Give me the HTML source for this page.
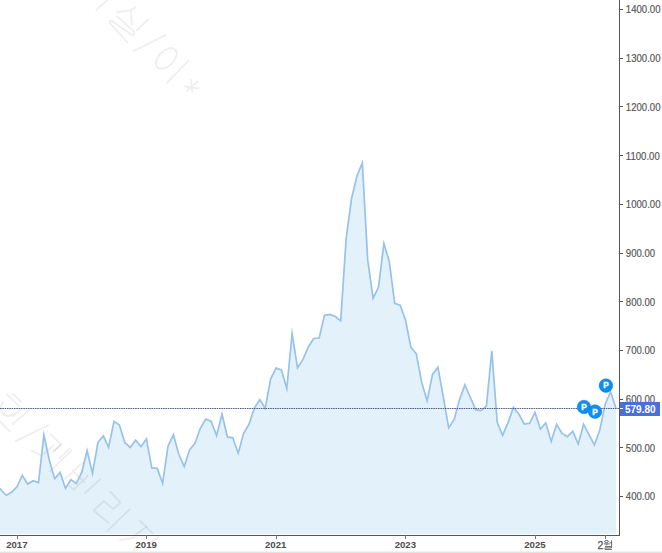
<!DOCTYPE html>
<html><head><meta charset="utf-8"><style>
html,body{margin:0;padding:0;background:#fff;width:662px;height:553px;overflow:hidden}
svg{display:block}
text{font-family:"Liberation Sans",sans-serif}
</style></head><body>
<svg width="662" height="553" viewBox="0 0 662 553">
<rect x="0" y="0" width="662" height="553" fill="#fff"/>
<path d="M-4.7,534 L-4.7,484.0 L0.7,489.5 L6.1,495.3 L11.5,492.3 L16.9,486.8 L22.3,475.4 L27.7,484.0 L33.1,480.7 L38.5,482.5 L43.9,435.0 L49.3,460.0 L54.7,478.7 L60.1,472.4 L65.5,488.3 L70.9,479.6 L76.3,483.5 L81.7,472.4 L87.1,450.7 L92.5,473.3 L97.9,442.5 L103.3,435.8 L108.6,447.4 L114.0,421.4 L119.4,425.0 L124.8,442.5 L130.2,447.4 L135.6,440.2 L141.0,446.7 L146.4,438.9 L151.8,467.9 L157.2,468.4 L162.6,483.3 L168.0,446.2 L173.4,434.8 L178.8,454.3 L184.2,466.6 L189.6,449.8 L195.0,443.4 L200.4,428.0 L205.8,419.0 L211.2,421.5 L216.6,435.7 L222.0,413.9 L227.4,436.9 L232.8,437.8 L238.2,453.2 L243.6,433.3 L249.0,424.3 L254.4,408.0 L259.8,399.5 L265.2,408.5 L270.6,379.0 L276.0,368.1 L281.4,370.0 L286.8,388.6 L292.1,333.5 L297.5,367.8 L302.9,359.7 L308.3,347.0 L313.7,338.5 L319.1,338.0 L324.5,315.3 L329.9,314.4 L335.3,316.5 L340.7,320.8 L346.1,239.0 L351.5,198.8 L356.9,176.0 L362.3,163.0 L367.7,259.9 L373.1,298.4 L378.5,287.0 L383.9,243.5 L389.3,261.7 L394.7,303.3 L400.1,305.2 L405.5,320.0 L410.9,347.3 L416.3,353.8 L421.7,382.4 L427.1,400.8 L432.5,374.4 L437.9,367.2 L443.3,397.0 L448.7,427.8 L454.1,419.6 L459.5,399.7 L464.9,384.9 L470.2,397.0 L475.6,409.7 L481.0,410.6 L486.4,406.1 L491.8,350.9 L497.2,422.4 L502.6,435.3 L508.0,422.6 L513.4,407.4 L518.8,413.9 L524.2,424.0 L529.6,423.3 L535.0,412.4 L540.4,429.0 L545.8,423.0 L551.2,441.4 L556.6,424.3 L562.0,433.4 L567.4,436.6 L572.8,431.3 L578.2,444.0 L583.6,424.3 L589.0,434.6 L594.4,445.0 L599.8,430.0 L605.2,404.0 L610.6,391.8 L616.0,408.5 L616.0,534 Z" fill="#e2f1fa"/>
<g fill="none" stroke="#000" stroke-opacity="0.065" stroke-width="1.8" stroke-linecap="round" stroke-linejoin="round">
<path d="M96.3,10 L107.4,0"/>
<path d="M117.2,12.2 Q124,10.6 129.4,10.6 Q133,9.5 135.5,7.3 M131,11.4 L131.9,24.4"/>
<path d="M136.7,30.5 L148.1,19.5"/>
<path d="M117.2,16.3 L133.9,31.7 M132.5,35.5 L112.3,21.2 Q110,20 109.8,22 Q109.8,23.5 111.1,24.4 M111.1,24.4 L127.4,42.3 M133.9,31.7 Q135.5,34 132.5,35.5"/>
<path d="M133.7,51 L165.5,35.1"/>
<ellipse cx="166.3" cy="58.4" rx="12.5" ry="7.5" transform="rotate(-44 166.3 58.4)"/>
<path d="M167,82.9 L188.7,60.4"/>
<path d="M184.5,86.3 L198.5,88.5 M191,80 L192.2,92 M197.5,81.5 L187,91"/>
<path d="M15.8,441.1 L48.1,425.3"/>
<path d="M0,421.5 L10.1,431.6"/>
<path d="M6.6,394.1 L19,405.8 M12.7,393.8 L21.5,402"/>
<path d="M3,402 Q-1,408 3,414 Q8,418 13,414"/>
<path d="M12.7,424 L29.1,410.1 M12.7,416.6 L20.9,409"/>
<path d="M31.6,450.6 L41.8,455.7 L53.2,445.6 M50.6,434.2 L60.8,444.3 L53.2,451.9 M59.5,458.2 L70,448.1"/>
<path d="M49.8,471.5 L71.5,450.3 M54.1,450.8 L61.7,444.3"/>
<path d="M65,479 L82.3,462.8 M69.3,485.6 L73.6,489.9 L87.7,475.8 M72.5,470.4 L84.5,482.3"/>
<path d="M85,493.2 L100.2,479.4"/>
<path d="M110.3,491.7 L120.5,502.6 L113.2,509.1 L103.8,501.1 L93.7,510.5 L108.2,522.8"/>
<path d="M107.4,530.8 L129.9,509.1"/>
<path d="M140,520.6 L153,533.7"/>
<path d="M134.9,535.2 L146.5,526.7 M120.1,539.9 Q128,539.5 134.9,537.3 M133.8,552 L135.9,545.7 M149.7,543.1 L158.7,537.3"/>
</g>
<polyline points="-4.7,484.0 0.7,489.5 6.1,495.3 11.5,492.3 16.9,486.8 22.3,475.4 27.7,484.0 33.1,480.7 38.5,482.5 43.9,435.0 49.3,460.0 54.7,478.7 60.1,472.4 65.5,488.3 70.9,479.6 76.3,483.5 81.7,472.4 87.1,450.7 92.5,473.3 97.9,442.5 103.3,435.8 108.6,447.4 114.0,421.4 119.4,425.0 124.8,442.5 130.2,447.4 135.6,440.2 141.0,446.7 146.4,438.9 151.8,467.9 157.2,468.4 162.6,483.3 168.0,446.2 173.4,434.8 178.8,454.3 184.2,466.6 189.6,449.8 195.0,443.4 200.4,428.0 205.8,419.0 211.2,421.5 216.6,435.7 222.0,413.9 227.4,436.9 232.8,437.8 238.2,453.2 243.6,433.3 249.0,424.3 254.4,408.0 259.8,399.5 265.2,408.5 270.6,379.0 276.0,368.1 281.4,370.0 286.8,388.6 292.1,333.5 297.5,367.8 302.9,359.7 308.3,347.0 313.7,338.5 319.1,338.0 324.5,315.3 329.9,314.4 335.3,316.5 340.7,320.8 346.1,239.0 351.5,198.8 356.9,176.0 362.3,163.0 367.7,259.9 373.1,298.4 378.5,287.0 383.9,243.5 389.3,261.7 394.7,303.3 400.1,305.2 405.5,320.0 410.9,347.3 416.3,353.8 421.7,382.4 427.1,400.8 432.5,374.4 437.9,367.2 443.3,397.0 448.7,427.8 454.1,419.6 459.5,399.7 464.9,384.9 470.2,397.0 475.6,409.7 481.0,410.6 486.4,406.1 491.8,350.9 497.2,422.4 502.6,435.3 508.0,422.6 513.4,407.4 518.8,413.9 524.2,424.0 529.6,423.3 535.0,412.4 540.4,429.0 545.8,423.0 551.2,441.4 556.6,424.3 562.0,433.4 567.4,436.6 572.8,431.3 578.2,444.0 583.6,424.3 589.0,434.6 594.4,445.0 599.8,430.0 605.2,404.0 610.6,391.8 616.0,408.5" fill="none" stroke="#97c2ea" stroke-width="1.7" stroke-linejoin="miter" stroke-miterlimit="10"/>
<line x1="0" y1="408.5" x2="619" y2="408.5" stroke="#505b88" stroke-width="1" stroke-dasharray="1.55,0.78"/>
<g stroke="#555" stroke-width="1" shape-rendering="crispEdges">
<line x1="619.5" y1="0" x2="619.5" y2="536"/>
<line x1="0" y1="535.5" x2="620" y2="535.5"/>
<line x1="619" y1="9.5" x2="623" y2="9.5"/><line x1="619" y1="58.2" x2="623" y2="58.2"/><line x1="619" y1="106.9" x2="623" y2="106.9"/><line x1="619" y1="155.6" x2="623" y2="155.6"/><line x1="619" y1="204.3" x2="623" y2="204.3"/><line x1="619" y1="253.0" x2="623" y2="253.0"/><line x1="619" y1="301.7" x2="623" y2="301.7"/><line x1="619" y1="350.4" x2="623" y2="350.4"/><line x1="619" y1="399.1" x2="623" y2="399.1"/><line x1="619" y1="447.8" x2="623" y2="447.8"/><line x1="619" y1="496.5" x2="623" y2="496.5"/>
<line x1="17.2" y1="535" x2="17.2" y2="538.5" stroke="#777"/><line x1="146.6" y1="535" x2="146.6" y2="538.5" stroke="#777"/><line x1="276.1" y1="535" x2="276.1" y2="538.5" stroke="#777"/><line x1="405.7" y1="535" x2="405.7" y2="538.5" stroke="#777"/><line x1="535.3" y1="535" x2="535.3" y2="538.5" stroke="#777"/><line x1="605.5" y1="535" x2="605.5" y2="538.5" stroke="#777"/>
</g>
<g font-size="9.6" fill="#555" stroke="#555" stroke-width="0.15"><text transform="translate(625.8 13.4) scale(1 1.12)">1400.00</text><text transform="translate(625.8 62.1) scale(1 1.12)">1300.00</text><text transform="translate(625.8 110.8) scale(1 1.12)">1200.00</text><text transform="translate(625.8 159.5) scale(1 1.12)">1100.00</text><text transform="translate(625.8 208.2) scale(1 1.12)">1000.00</text><text transform="translate(625.8 256.9) scale(1 1.12)">900.00</text><text transform="translate(625.8 305.6) scale(1 1.12)">800.00</text><text transform="translate(625.8 354.3) scale(1 1.12)">700.00</text><text transform="translate(625.8 403.0) scale(1 1.12)">600.00</text><text transform="translate(625.8 451.7) scale(1 1.12)">500.00</text><text transform="translate(625.8 500.4) scale(1 1.12)">400.00</text></g>
<g font-size="9.6" font-weight="bold" fill="#4c4c4c"><text x="16.8" y="548.3" text-anchor="middle">2017</text><text x="146.2" y="548.3" text-anchor="middle">2019</text><text x="275.7" y="548.3" text-anchor="middle">2021</text><text x="405.3" y="548.3" text-anchor="middle">2023</text><text x="534.9" y="548.3" text-anchor="middle">2025</text></g>
<text x="597.6" y="548.6" font-size="10.5" fill="#555" stroke="#555" stroke-width="0.25">2</text>
<g fill="none" stroke="#555" stroke-width="0.9"><ellipse cx="606.5" cy="541.5" rx="2.1" ry="1.0"/><path d="M604 543.9 H609.6 M606.8 543.9 V545.2 M611.6 540.3 V546 M609.6 542.8 H611.6 M605 546.4 H611.6 V547.9 H605 V549.4 H611.8"/></g>
<rect x="620" y="402" width="40" height="14" fill="#4a6fdc"/>
<line x1="620" y1="408.5" x2="623" y2="408.5" stroke="#fff" stroke-width="1"/>
<text x="625" y="412.5" font-size="10" font-weight="bold" fill="#fff">579.80</text>
<rect x="0" y="551" width="662" height="1" fill="#f3f3f3"/><rect x="0" y="552" width="662" height="1" fill="#e3e3e3"/>
<g>
<circle cx="584" cy="407" r="6.8" fill="#0f8ff0" stroke="#0b76d6" stroke-width="0.5"/>
<circle cx="595" cy="411.6" r="6.8" fill="#0f8ff0" stroke="#0b76d6" stroke-width="0.5"/>
<circle cx="605.9" cy="385.6" r="6.8" fill="#0f8ff0" stroke="#0b76d6" stroke-width="0.5"/>
<g font-size="8.3" font-weight="bold" fill="#fff" stroke="#fff" stroke-width="0.35" text-anchor="middle">
<text x="584.1" y="410.0">P</text><text x="595.1" y="414.6">P</text><text x="606.1" y="388.0">P</text>
</g>
</g>
</svg>
</body></html>
